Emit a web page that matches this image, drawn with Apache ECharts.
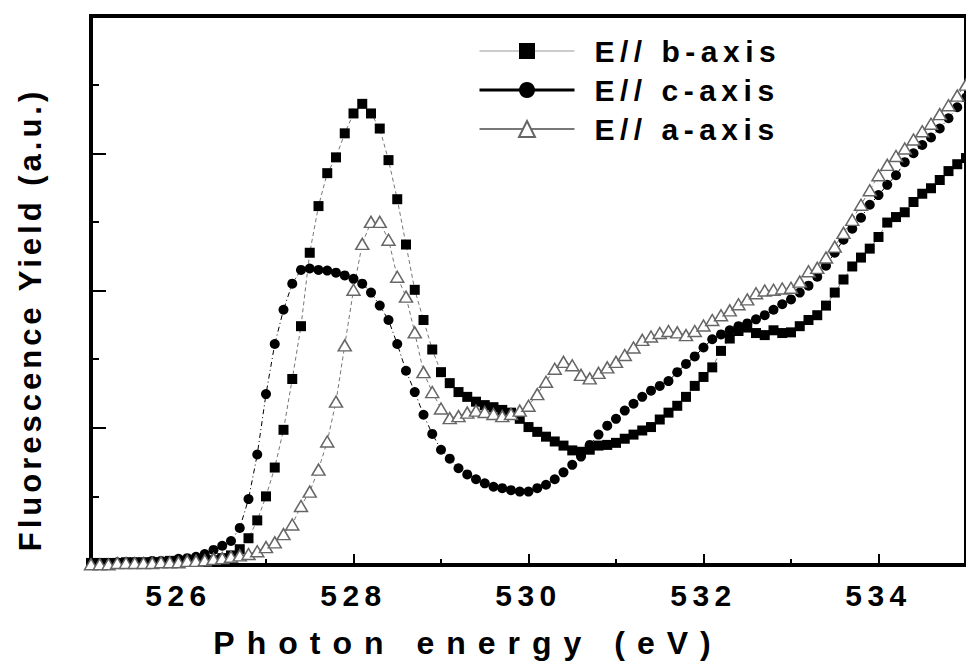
<!DOCTYPE html>
<html><head><meta charset="utf-8">
<script src="https://cdn.jsdelivr.net/npm/echarts@6.0.0/dist/echarts.min.js"></script>
<style>
html,body{margin:0;padding:0;background:#fff;}
#chart{width:966px;height:664px;}
#chart text[style*="30px"]{letter-spacing:5.5px;}
#chart text[style*="32px"]{letter-spacing:12px;}
#chart text[style*="31px"]{letter-spacing:4px;}
</style></head><body><div id="chart"></div>
<script>
const energy = [525.0,525.1,525.2,525.3,525.4,525.5,525.6,525.7,525.8,525.9,
526.0,526.1,526.2,526.3,526.4,526.5,526.6,526.7,526.8,526.9,
527.0,527.1,527.2,527.3,527.4,527.5,527.6,527.7,527.8,527.9,
528.0,528.1,528.2,528.3,528.4,528.5,528.6,528.7,528.8,528.9,
529.0,529.1,529.2,529.3,529.4,529.5,529.6,529.7,529.8,529.9,
530.0,530.1,530.2,530.3,530.4,530.5,530.6,530.7,530.8,530.9,
531.0,531.1,531.2,531.3,531.4,531.5,531.6,531.7,531.8,531.9,
532.0,532.1,532.2,532.3,532.4,532.5,532.6,532.7,532.8,532.9,
533.0,533.1,533.2,533.3,533.4,533.5,533.6,533.7,533.8,533.9,
534.0,534.1,534.2,534.3,534.4,534.5,534.6,534.7,534.8,534.9,
535.0];
const bAxis = [0.03,0.03,0.03,0.03,0.04,0.04,0.04,0.04,0.04,0.06,
0.06,0.06,0.06,0.07,0.07,0.10,0.14,0.23,0.39,0.65,
1.00,1.42,1.97,2.71,3.48,4.55,5.23,5.71,5.94,6.29,
6.58,6.72,6.58,6.36,5.90,5.33,4.67,4.01,3.57,3.14,
2.81,2.65,2.52,2.45,2.38,2.33,2.30,2.26,2.22,2.13,
2.01,1.94,1.87,1.80,1.74,1.67,1.65,1.68,1.74,1.75,
1.78,1.84,1.90,1.96,2.01,2.12,2.22,2.32,2.45,2.61,
2.74,2.88,3.12,3.30,3.41,3.46,3.38,3.35,3.42,3.38,
3.39,3.48,3.57,3.64,3.78,3.97,4.16,4.35,4.48,4.61,
4.78,4.99,5.07,5.14,5.29,5.41,5.49,5.61,5.74,5.84,
5.93];
const cAxis = [0.03,0.03,0.03,0.04,0.04,0.04,0.04,0.06,0.06,0.06,
0.09,0.10,0.12,0.16,0.22,0.28,0.35,0.54,0.96,1.61,
2.49,3.22,3.72,4.10,4.30,4.32,4.30,4.29,4.26,4.22,
4.17,4.10,3.97,3.78,3.57,3.22,2.83,2.52,2.19,1.91,
1.68,1.55,1.41,1.32,1.25,1.19,1.14,1.12,1.09,1.07,
1.07,1.12,1.17,1.25,1.35,1.46,1.58,1.75,1.90,2.03,
2.13,2.25,2.35,2.45,2.54,2.61,2.68,2.81,2.93,3.04,
3.17,3.29,3.36,3.42,3.48,3.52,3.58,3.64,3.72,3.80,
3.87,3.97,4.07,4.20,4.36,4.55,4.74,4.90,5.06,5.25,
5.39,5.54,5.68,5.87,6.00,6.12,6.23,6.36,6.51,6.67,
6.81];
const aAxis = [0.01,0.01,0.01,0.03,0.03,0.03,0.03,0.03,0.04,0.04,
0.04,0.06,0.06,0.07,0.09,0.10,0.12,0.14,0.16,0.20,
0.26,0.33,0.45,0.59,0.86,1.07,1.39,1.80,2.38,3.20,
4.01,4.68,5.00,5.00,4.74,4.20,3.91,3.39,2.81,2.52,
2.28,2.14,2.17,2.22,2.25,2.23,2.20,2.17,2.20,2.25,
2.32,2.49,2.67,2.86,2.96,2.91,2.77,2.72,2.80,2.88,
2.96,3.06,3.17,3.28,3.33,3.38,3.41,3.39,3.35,3.41,
3.49,3.57,3.64,3.71,3.80,3.87,3.96,4.00,4.01,4.03,
4.04,4.13,4.28,4.33,4.48,4.64,4.84,5.03,5.25,5.46,
5.68,5.83,5.96,6.07,6.20,6.32,6.43,6.57,6.70,6.84,
7.00];
const majorTicks = [526, 528, 530, 532, 534];
const minorTicks = [527, 529, 531, 533];
const seriesNames = ['E// b-axis', 'E// c-axis', 'E// a-axis'];
const xTitle = 'Photon energy (eV)';
const yTitle = 'Fluorescence Yield (a.u.)';

const pair = arr => energy.map((e, i) => [e, arr[i]]);
const FONT = 'Liberation Sans';

const chart = echarts.init(document.getElementById('chart'), null, {renderer: 'svg'});
chart.setOption({
  animation: false,
  backgroundColor: '#fff',
  grid: {left: 91, right: -8.5, top: 16, bottom: 97, show: true, borderColor: '#000', borderWidth: 4, backgroundColor: 'transparent'},
  legend: {
    orient: 'vertical', left: 473, top: 31, itemWidth: 95, itemHeight: 20, itemGap: 9,
    selectedMode: false,
    textStyle: {fontSize: 30, fontWeight: 'bold', fontFamily: FONT, color: '#000', padding: [0, 0, 0, 15]},
    data: [
      {name: seriesNames[0], lineStyle: {type: 'solid', width: 1, color: '#999'}},
      {name: seriesNames[1], lineStyle: {type: 'solid', width: 3, color: '#000'}},
      {name: seriesNames[2], lineStyle: {type: 'solid', width: 2, color: '#777'}}
    ]
  },
  xAxis: [{
    type: 'value', min: 525, max: 535, position: 'bottom',
    axisLine: {show: true, lineStyle: {color: '#000', width: 4}},
    axisTick: {show: true, inside: true, length: 11, lineStyle: {color: '#000', width: 2}, customValues: majorTicks},
    axisLabel: {customValues: majorTicks, margin: 15, color: '#000', fontSize: 30, fontWeight: 'bold', fontFamily: FONT},
    splitLine: {show: false},
    name: xTitle, nameLocation: 'middle', nameGap: 62,
    nameTextStyle: {fontSize: 32, fontWeight: 'bold', fontFamily: FONT, color: '#000', padding: [0, 121, 0, 0]}
  }, {
    type: 'value', min: 525, max: 535, position: 'bottom',
    axisLine: {show: false},
    axisTick: {show: true, inside: true, length: 6, lineStyle: {color: '#000', width: 2}, customValues: minorTicks},
    axisLabel: {show: false},
    splitLine: {show: false}
  }],
  yAxis: {
    type: 'value', min: 0, max: 8, interval: 2,
    axisLine: {show: true, lineStyle: {color: '#000', width: 4}},
    axisTick: {show: true, inside: true, length: 15, lineStyle: {color: '#000', width: 2}},
    minorTick: {show: true, splitNumber: 2, length: 8, lineStyle: {color: '#000', width: 2}},
    axisLabel: {show: false},
    splitLine: {show: false},
    name: yTitle, nameLocation: 'middle', nameGap: 45,
    nameTextStyle: {fontSize: 31, fontWeight: 'bold', fontFamily: FONT, color: '#000', padding: [0, 58, 0, 0]}
  },
  series: [{
    type: 'line', name: seriesNames[0], xAxisIndex: 0, data: pair(bAxis),
    symbol: 'rect', symbolSize: 10,
    itemStyle: {color: '#000'},
    lineStyle: {color: '#777', width: 1, type: [4, 3]},
    emphasis: {disabled: true}
  }, {
    type: 'line', name: seriesNames[1], xAxisIndex: 0, data: pair(cAxis),
    symbol: 'circle', symbolSize: 10,
    itemStyle: {color: '#000'},
    lineStyle: {color: '#000', width: 1, type: [5, 3, 1, 3]},
    emphasis: {disabled: true}
  }, {
    type: 'line', name: seriesNames[2], xAxisIndex: 0, data: pair(aAxis),
    symbol: 'triangle', symbolSize: [13, 11],
    itemStyle: {color: '#fff', borderColor: '#666', borderWidth: 1.5},
    lineStyle: {color: '#777', width: 1, type: [4, 3]},
    emphasis: {disabled: true}
  }]
});
</script>
</body></html>
